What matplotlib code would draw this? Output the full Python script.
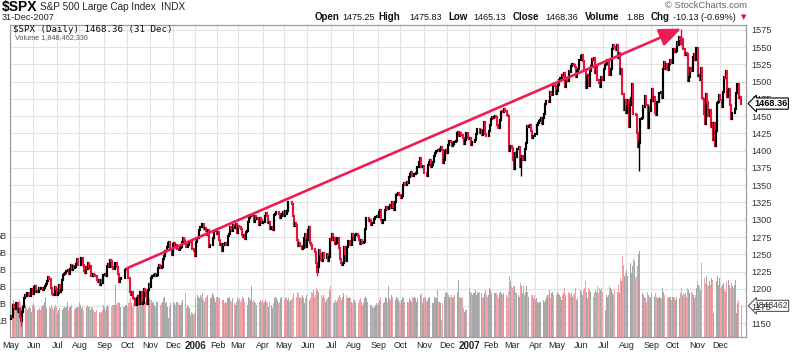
import numpy as np
import matplotlib
matplotlib.use("Agg")
import matplotlib.pyplot as plt
from matplotlib.collections import LineCollection

# ------------------------------------------------------------------
# Data: daily closes and volume (billions), May 2005 - Dec 2007
# ------------------------------------------------------------------
days_per_month = [21, 22, 20, 23, 21, 21, 21, 21,
                  20, 19, 23, 19, 22, 22, 20, 23, 20, 22, 21, 20,
                  20, 19, 22, 20, 22, 21, 21, 23, 19, 23, 21, 20]
month_labels = ["May", "Jun", "Jul", "Aug", "Sep", "Oct", "Nov", "Dec",
                "2006", "Feb", "Mar", "Apr", "May", "Jun", "Jul", "Aug", "Sep", "Oct", "Nov", "Dec",
                "2007", "Feb", "Mar", "Apr", "May", "Jun", "Jul", "Aug", "Sep", "Oct", "Nov", "Dec"]

first_open = 1156

closes_2005 = [
    1161, 1159, 1176, 1173, 1171, 1179, 1166, 1171, 1159, 1154, 1166, 1174, 1186, 1191, 1189, 1194, 1194, 1190, 1199, 1199, 1192,
    1202, 1204, 1196, 1197, 1195, 1201, 1199, 1201, 1198, 1201, 1204, 1207, 1211, 1217, 1214, 1214, 1201, 1192, 1191, 1202, 1200, 1191,
    1194, 1205, 1195, 1198, 1212, 1220, 1222, 1223, 1226, 1227, 1221, 1229, 1235, 1227, 1233, 1230, 1232, 1236, 1243, 1234,
    1235, 1244, 1245, 1235, 1226, 1223, 1231, 1229, 1237, 1230, 1233, 1219, 1221, 1220, 1219, 1218, 1212, 1210, 1213, 1205, 1212, 1208, 1220,
    1221, 1218, 1233, 1236, 1231, 1241, 1240, 1232, 1228, 1228, 1237, 1231, 1222, 1210, 1214, 1215, 1215, 1215, 1216, 1227, 1229,
    1227, 1215, 1196, 1191, 1195, 1187, 1185, 1177, 1176, 1187, 1190, 1178, 1195, 1178, 1180, 1199, 1197, 1190, 1178, 1198, 1207,
    1202, 1215, 1219, 1220, 1222, 1219, 1220, 1230, 1235, 1233, 1230, 1232, 1243, 1248, 1254, 1261, 1266, 1268, 1257, 1258, 1249,
    1265, 1266, 1262, 1264, 1257, 1256, 1259, 1260, 1268, 1273, 1270, 1267, 1260, 1260, 1263, 1268, 1269, 1257, 1258, 1254, 1248,
]
closes_2006 = [
    1268, 1273, 1273, 1285, 1290, 1289, 1294, 1286, 1288, 1283, 1278, 1285, 1261, 1263, 1264, 1264, 1273, 1284, 1285, 1280,
    1282, 1270, 1264, 1265, 1254, 1265, 1263, 1267, 1263, 1276, 1280, 1289, 1287, 1283, 1293, 1288, 1290, 1294, 1281,
    1291, 1289, 1287, 1278, 1275, 1278, 1272, 1282, 1284, 1297, 1303, 1305, 1307, 1305, 1297, 1305, 1301, 1302, 1301, 1293, 1303, 1300, 1295,
    1297, 1306, 1310, 1306, 1295, 1297, 1287, 1289, 1289, 1285, 1307, 1309, 1311, 1311, 1309, 1302, 1306, 1309, 1311,
    1305, 1313, 1308, 1313, 1326, 1325, 1325, 1323, 1306, 1291, 1295, 1292, 1270, 1262, 1267, 1262, 1257, 1259, 1273, 1280, 1260, 1270,
    1285, 1289, 1266, 1264, 1257, 1258, 1253, 1237, 1224, 1231, 1256, 1251, 1241, 1240, 1252, 1245, 1245, 1250, 1240, 1246, 1272, 1270,
    1280, 1270, 1274, 1265, 1267, 1273, 1259, 1243, 1237, 1235, 1237, 1260, 1250, 1240, 1261, 1269, 1269, 1263, 1279, 1277,
    1270, 1278, 1280, 1280, 1276, 1271, 1265, 1271, 1267, 1268, 1286, 1302, 1302, 1303, 1298, 1299, 1292, 1296, 1295, 1301, 1304, 1305, 1304,
    1311, 1314, 1300, 1295, 1299, 1299, 1314, 1318, 1316, 1319, 1321, 1317, 1325, 1319, 1314, 1326, 1336, 1337, 1339, 1336,
    1331, 1335, 1350, 1353, 1350, 1351, 1354, 1353, 1362, 1366, 1369, 1364, 1366, 1367, 1368, 1377, 1377, 1383, 1390, 1377, 1377, 1378,
    1368, 1368, 1364, 1380, 1383, 1386, 1376, 1380, 1384, 1393, 1396, 1399, 1401, 1400, 1402, 1406, 1401, 1382, 1386, 1400, 1401,
    1396, 1409, 1414, 1413, 1407, 1410, 1413, 1412, 1414, 1425, 1427, 1422, 1425, 1423, 1418, 1410, 1416, 1426, 1425, 1418,
]
closes_2007 = [
    1417, 1418, 1409, 1413, 1413, 1415, 1424, 1431, 1431, 1431, 1426, 1430, 1423, 1428, 1441, 1424, 1422, 1421, 1429, 1438,
    1446, 1449, 1447, 1449, 1450, 1449, 1438, 1433, 1444, 1456, 1457, 1456, 1460, 1458, 1457, 1452, 1450, 1400, 1407,
    1404, 1387, 1374, 1396, 1391, 1402, 1402, 1406, 1377, 1388, 1392, 1387, 1402, 1411, 1436, 1434, 1436, 1437, 1429, 1418, 1422, 1421,
    1424, 1438, 1440, 1443, 1445, 1448, 1439, 1447, 1453, 1468, 1472, 1472, 1471, 1485, 1481, 1481, 1496, 1495, 1494, 1482,
    1487, 1495, 1502, 1505, 1510, 1508, 1513, 1492, 1506, 1503, 1501, 1515, 1514, 1523, 1525, 1524, 1522, 1507, 1515, 1518, 1531, 1531,
    1537, 1539, 1530, 1517, 1491, 1507, 1510, 1494, 1516, 1523, 1533, 1531, 1534, 1513, 1522, 1503, 1498, 1493, 1507, 1506, 1503,
    1519, 1524, 1525, 1531, 1532, 1510, 1519, 1547, 1553, 1550, 1549, 1546, 1553, 1534, 1541, 1511, 1518, 1482, 1459, 1474, 1455,
    1465, 1473, 1434, 1467, 1476, 1497, 1453, 1453, 1452, 1426, 1406, 1411, 1446, 1446, 1448, 1465, 1463, 1479, 1466, 1433, 1464, 1458, 1474,
    1489, 1472, 1478, 1454, 1452, 1471, 1471, 1484, 1485, 1477, 1519, 1529, 1519, 1525, 1518, 1517, 1525, 1531, 1527,
    1547, 1547, 1543, 1545, 1558, 1553, 1565, 1562, 1555, 1562, 1548, 1539, 1541, 1540, 1501, 1507, 1520, 1516, 1515, 1536, 1540, 1531, 1549,
    1508, 1510, 1502, 1520, 1476, 1475, 1453, 1439, 1482, 1471, 1451, 1459, 1434, 1440, 1416, 1440, 1407, 1429, 1469, 1470, 1481,
    1473, 1463, 1485, 1507, 1505, 1515, 1478, 1487, 1489, 1467, 1446, 1455, 1454, 1461, 1484, 1497, 1497, 1476, 1478, 1468.36,
]

volume_2005 = [
    2.1, 2.0, 2.2, 1.9, 1.6, 1.7, 1.9, 2.0, 2.2, 2.1, 1.8, 1.9, 2.1, 1.9, 1.7, 1.6, 1.7, 1.8, 1.7, 1.5, 1.9,
    2.0, 1.8, 1.7, 1.6, 1.6, 1.7, 1.6, 1.8, 1.9, 1.9, 2.1, 2.4, 1.7, 1.8, 1.8, 1.7, 1.9, 1.7, 1.6, 1.8, 1.9, 1.8,
    1.4, 1.6, 1.7, 1.9, 1.6, 1.7, 1.8, 1.7, 1.8, 2.1, 1.6, 1.8, 1.8, 1.9, 1.7, 1.6, 1.7, 1.7, 1.8, 1.8,
    2.0, 1.9, 1.7, 1.8, 1.6, 1.7, 1.8, 1.9, 1.8, 1.8, 1.6, 1.8, 1.7, 1.6, 1.5, 1.5, 1.6, 1.7, 1.5, 1.4, 1.5, 1.6, 1.9,
    1.8, 1.6, 1.8, 1.9, 1.8, 1.7, 1.8, 1.9, 1.9, 1.9, 3.1, 1.9, 2.0, 2.1, 2.0, 1.8, 1.8, 1.8, 1.8, 1.9, 1.9,
    1.8, 2.0, 2.1, 2.3, 2.0, 1.8, 2.0, 2.2, 2.3, 2.1, 1.9, 2.0, 2.2, 2.4, 2.3, 2.0, 2.1, 2.1, 2.0, 2.0, 2.3,
    2.0, 2.2, 2.1, 2.0, 1.9, 1.8, 2.1, 2.1, 1.9, 1.9, 2.0, 2.1, 2.3, 2.4, 2.0, 2.1, 1.8, 1.1, 1.8, 2.0, 2.4,
    2.1, 2.0, 1.9, 2.1, 2.1, 2.0, 1.9, 1.9, 2.0, 2.2, 2.0, 2.6, 1.7, 1.9, 1.8, 1.7, 1.3, 1.5, 1.4, 1.3, 1.4,
]
volume_2006 = [
    2.3, 2.5, 2.4, 2.3, 2.5, 2.4, 2.6, 2.2, 2.1, 2.3, 2.4, 2.5, 2.8, 2.3, 2.4, 2.6, 2.5, 2.3, 2.1, 2.4,
    2.4, 2.3, 2.3, 2.1, 2.2, 2.2, 2.0, 2.1, 2.0, 2.3, 2.3, 2.4, 2.2, 2.1, 2.3, 2.0, 1.9, 2.1, 2.4,
    2.2, 2.3, 2.1, 2.2, 2.4, 2.3, 2.1, 2.0, 1.9, 2.4, 2.3, 2.2, 3.0, 2.1, 2.2, 2.1, 2.0, 1.9, 2.0, 2.1, 2.2, 2.1, 2.2,
    2.0, 2.1, 2.2, 2.1, 2.0, 1.8, 2.1, 1.9, 1.7, 2.0, 2.3, 2.4, 2.3, 2.2, 2.0, 2.1, 2.3, 2.4, 2.2,
    2.2, 2.3, 2.4, 2.2, 2.3, 2.1, 2.2, 2.2, 2.4, 2.6, 2.5, 2.4, 2.7, 2.6, 2.3, 2.4, 2.3, 2.5, 2.3, 2.0, 2.3, 2.5,
    2.4, 2.2, 2.3, 2.7, 2.6, 2.8, 2.4, 2.5, 2.9, 2.8, 2.7, 3.2, 2.5, 2.4, 2.5, 2.3, 2.1, 2.2, 2.3, 2.4, 2.8, 3.0,
    1.4, 2.0, 2.1, 2.2, 2.1, 2.2, 2.4, 2.5, 2.4, 2.2, 2.4, 2.6, 2.5, 2.5, 2.3, 2.3, 2.4, 2.3, 2.1, 2.0,
    2.2, 2.2, 2.1, 2.2, 2.0, 2.2, 2.3, 2.1, 1.9, 2.0, 2.3, 2.4, 2.3, 2.1, 1.8, 1.9, 1.9, 1.8, 1.7, 1.8, 1.9, 2.0, 1.9,
    2.0, 2.2, 2.4, 2.2, 2.0, 2.1, 2.4, 2.3, 2.1, 3.0, 2.3, 2.2, 2.5, 2.4, 2.2, 2.2, 2.4, 2.3, 2.2, 2.1,
    2.0, 2.2, 2.4, 2.3, 2.1, 2.0, 2.1, 2.1, 2.3, 2.2, 2.1, 2.4, 2.3, 2.4, 2.3, 2.1, 2.3, 2.4, 2.5, 2.6, 2.0, 2.3,
    2.4, 2.3, 2.1, 2.2, 2.3, 2.4, 2.5, 2.0, 2.0, 2.4, 2.3, 2.3, 2.8, 2.1, 2.1, 2.0, 1.0, 2.0, 2.4, 2.6, 2.7,
    2.6, 2.5, 2.4, 2.4, 2.5, 2.3, 2.4, 2.5, 2.6, 2.7, 3.4, 2.4, 2.3, 2.4, 2.3, 1.7, 1.5, 1.6, 1.6, 1.7,
]
volume_2007 = [
    2.9, 2.7, 2.6, 2.5, 2.6, 2.6, 2.8, 2.5, 2.7, 2.6, 2.7, 2.6, 2.3, 2.4, 2.6, 2.8, 2.5, 2.4, 2.5, 2.9,
    2.8, 2.6, 2.5, 2.6, 2.6, 2.6, 2.5, 2.3, 2.6, 2.7, 2.6, 2.5, 2.6, 2.6, 2.5, 2.4, 2.7, 3.6, 3.3,
    3.0, 2.9, 3.0, 3.0, 2.7, 2.6, 2.5, 2.4, 3.2, 3.0, 2.6, 3.1, 2.5, 2.7, 3.0, 2.7, 2.4, 2.3, 2.5, 2.5, 2.3, 2.5,
    2.2, 2.3, 2.1, 2.0, 2.1, 2.1, 2.3, 2.2, 2.1, 2.2, 2.4, 2.5, 2.5, 2.8, 2.3, 2.6, 2.7, 2.5, 2.4, 2.5,
    2.7, 2.6, 2.5, 2.4, 2.2, 2.5, 2.6, 2.9, 2.5, 2.6, 2.7, 2.6, 2.5, 2.6, 2.4, 2.5, 2.6, 2.9, 2.2, 2.3, 2.5, 2.8,
    2.7, 2.5, 2.8, 2.9, 3.3, 2.7, 2.3, 2.9, 2.8, 2.7, 3.0, 2.4, 2.6, 2.8, 2.7, 3.0, 2.6, 2.9, 2.8, 2.9, 2.7,
    2.4, 1.6, 2.5, 2.4, 2.5, 3.0, 2.9, 2.8, 2.6, 2.5, 2.8, 2.7, 2.7, 3.1, 2.6, 3.5, 3.3, 4.8, 4.3, 3.6, 3.8,
    4.0, 3.6, 4.1, 4.4, 3.8, 4.2, 4.6, 4.5, 3.5, 3.6, 4.2, 4.9, 5.1, 2.8, 2.6, 2.5, 2.4, 2.3, 2.1, 2.7, 2.5, 2.4, 2.4,
    2.6, 2.4, 2.4, 2.6, 2.4, 2.3, 2.3, 2.4, 2.3, 2.3, 2.9, 2.7, 2.5, 2.6, 2.4, 2.3, 2.4, 2.4, 2.2,
    2.4, 2.4, 2.3, 2.2, 2.4, 2.1, 2.3, 2.6, 2.9, 2.5, 2.6, 2.5, 2.6, 2.4, 2.9, 2.8, 2.6, 2.7, 2.6, 2.5, 2.3, 2.5, 2.9,
    3.3, 3.1, 3.0, 2.8, 4.4, 3.9, 3.5, 3.2, 3.6, 3.1, 3.0, 3.3, 3.1, 3.5, 3.4, 1.4, 3.2, 3.3, 3.6, 3.1, 3.5,
    2.9, 3.0, 3.1, 3.2, 2.8, 2.7, 3.3, 3.4, 3.1, 2.9, 3.2, 3.0, 2.9, 3.1, 3.4, 1.4, 2.0, 2.2, 2.1, 1.848,
]

# intraday extremes that stick out beyond the close-to-close moves
wick_days = [9, 281, 469, 577, 616]
wick_lo = [1146, 1219, 1364, 1371, 1553]
wick_hi = [1160, 1231, 1390, 1415, 1576]

# trend line drawn on the chart (day index, price)
trend_start = (107, 1230)
trend_end = (616, 1577)

price_ticks = list(range(1150, 1576, 25))
volume_ticks = [1, 2, 3, 4, 5, 6]
last_close = 1468.36
last_volume = 1848462

closes = np.array(closes_2005 + closes_2006 + closes_2007, dtype=float)
volumes = np.array(volume_2005 + volume_2006 + volume_2007, dtype=float)
assert len(closes) == sum(days_per_month), (len(closes), sum(days_per_month))
assert len(volumes) == len(closes), (len(volumes), len(closes))

n = len(closes)
x = np.arange(n)
prev = np.concatenate([[first_open], closes[:-1]])
down = closes < prev
month_starts = np.concatenate([[0], np.cumsum(days_per_month)[:-1]])

plt.rcParams['font.family'] = ['Liberation Sans', 'DejaVu Sans']

W, H = 800, 355
fig = plt.figure(figsize=(W / 100, H / 100), dpi=100)

def fx(px):
    return px / W

def fy(py):
    return 1 - py / H

ax_vol = fig.add_axes([fx(10), 18 / H, 736 / W, 312 / H])
ax = ax_vol.twinx()

RED = "#e3173e"
PINK = "#f0a2a9"
GREY = "#a8a8a8"
GRID = "#e3e3e3"

#----------------------------------------------------------------------------------
# grid (drawn on the bottom axes so it stays behind the volume bars)
#----------------------------------------------------------------------------------
for p in price_ticks:
    ax_vol.plot([0, 1], [p, p], transform=ax.get_yaxis_transform(),
                color=GRID, lw=0.8, zorder=0)
for ms in month_starts[1:]:
    ax_vol.axvline(ms - 0.5, color=GRID, lw=0.8, zorder=0)

#----------------------------------------------------------------------------------
# volume
#----------------------------------------------------------------------------------
vol_colors = [PINK if d else GREY for d in down]
ax_vol.bar(x, volumes, width=0.85, color=vol_colors, linewidth=0, zorder=2)

#----------------------------------------------------------------------------------
# price bars (close-to-close moves plus a few intraday wicks)
#----------------------------------------------------------------------------------
segs = [[(i, prev[i]), (i, closes[i])] for i in range(n)]
cols = [RED if d else "black" for d in down]
lc = LineCollection(segs, colors=cols, linewidths=1.55, capstyle="projecting", zorder=3)
ax.add_collection(lc)
wsegs = [[(d, lo), (d, hi)] for d, lo, hi in zip(wick_days, wick_lo, wick_hi)]
wcols = [RED if down[d] else "black" for d in wick_days]
ax.add_collection(LineCollection(wsegs, colors=wcols, linewidths=1.0, zorder=3))

ax.annotate("", xy=trend_end, xytext=trend_start,
            arrowprops=dict(arrowstyle="-|>,head_length=1.1,head_width=0.45",
                            mutation_scale=12, color="#ee1c52", lw=1.9,
                            shrinkA=0, shrinkB=0), zorder=5)

ax_vol.set_xlim(-0.9, 675.5)
ax_vol.set_ylim(0, 312 / 16.85)
ax.set_ylim(1130.1, 1582.2)

#----------------------------------------------------------------------------------
# axes, ticks, labels
#----------------------------------------------------------------------------------
ax_vol.set_xticks(month_starts)
ax_vol.set_xticklabels(month_labels)
ax_vol.tick_params(axis="x", length=0, pad=3, labelsize=6.4, labelcolor="#222222")
for lbl in ax_vol.get_xticklabels():
    if lbl.get_text().isdigit():
        lbl.set_fontweight("bold")
        lbl.set_fontsize(7)

ax_vol.set_yticks(volume_ticks)
ax_vol.set_yticklabels(["%dB" % v for v in volume_ticks])
ax_vol.tick_params(axis="y", length=0, pad=2.2, labelsize=6.5, labelcolor="#333333")

ax.set_yticks(price_ticks)
ax.set_yticklabels([str(p) for p in price_ticks])
ax.tick_params(axis="y", length=0, pad=3.5, labelsize=6.6, labelcolor="#333333")

for a in (ax, ax_vol):
    for s in a.spines.values():
        s.set_color("#9a9a9a")
        s.set_linewidth(0.8)

# last value markers on the right axis (they cover the nearby tick labels)
ax.annotate("%.2f" % last_close, xy=(1, last_close), xycoords=ax.get_yaxis_transform(),
            xytext=(8, 0), textcoords="offset pixels", ha="left", va="center",
            fontsize=6.6, fontweight="bold", color="black", zorder=10,
            bbox=dict(boxstyle="larrow,pad=0.12", fc="white", ec="black", lw=0.8))
ax_vol.annotate("%d" % last_volume, xy=(1, volumes[-1]), xycoords=ax_vol.get_yaxis_transform(),
                xytext=(8, 0), textcoords="offset pixels", ha="left", va="center",
                fontsize=6.2, color="#333333", zorder=10,
                bbox=dict(boxstyle="larrow,pad=0.12", fc="white", ec="#555555", lw=0.8))

#----------------------------------------------------------------------------------
# header
#----------------------------------------------------------------------------------
fig.text(fx(2), fy(7), "$SPX", fontsize=10, fontweight="bold", va="center", ha="left")
fig.text(fx(40), fy(7.5), "S&P 500 Large Cap Index  INDX", fontsize=7.2, va="center", ha="left", color="#222222")
fig.text(fx(2), fy(17), "31-Dec-2007", fontsize=6.6, va="center", ha="left", color="#222222")
fig.text(fx(747), fy(6), "\u00a9 StockCharts.com", fontsize=6.8, va="center", ha="right", color="#666666")

header = [("Open", 315, True), ("1475.25", 342, False), ("High", 378, True), ("1475.83", 409, False),
          ("Low", 448, True), ("1465.13", 473, False), ("Close", 513, True), ("1468.36", 545, False),
          ("Volume", 585, True), ("1.8B", 626, False), ("Chg", 651, True), ("-10.13 (-0.69%)", 673, False)]
for txt, px, bold in header:
    fig.text(fx(px), fy(17), txt, fontsize=7 if bold else 6.5,
             fontweight="bold" if bold else "normal", va="center", ha="left", color="#111111")
fig.text(fx(741), fy(17.5), "\u25bc", fontsize=5, va="center", ha="left", color="#d0103a",
         family=["DejaVu Sans"])

fig.text(fx(13), fy(30), "$SPX (Daily) 1468.36 (31 Dec)", fontsize=6.6, va="center", ha="left",
         family=["DejaVu Sans Mono"], color="#111111")
fig.text(fx(15), fy(37.5), "Volume 1,848,462,336", fontsize=5.2, va="center", ha="left", color="#555555")

fig.savefig("out.png", dpi=100)
